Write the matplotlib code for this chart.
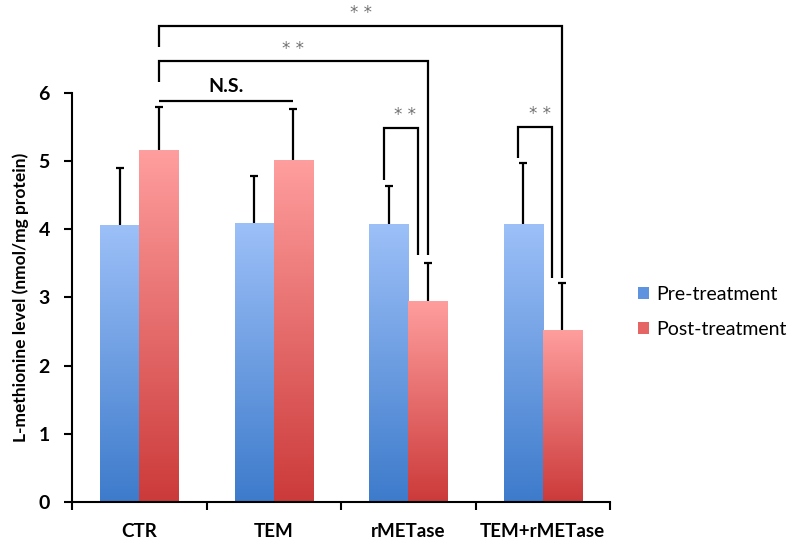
import numpy as np
import matplotlib
matplotlib.use("Agg")
import matplotlib.pyplot as plt
from matplotlib.patches import Patch
from matplotlib.colors import LinearSegmentedColormap

categories = ['CTR', 'TEM', 'rMETase', 'TEM+rMETase']
pre = [4.07, 4.10, 4.08, 4.08]
pre_err = [0.83, 0.68, 0.56, 0.89]
post = [5.16, 5.02, 2.95, 2.53]
post_err = [0.63, 0.75, 0.55, 0.68]
series_labels = ['Pre-treatment', 'Post-treatment']
yticks = [0, 1, 2, 3, 4, 5, 6]

plt.rcParams['font.family'] = ['Lato', 'DejaVu Sans']

fig = plt.figure(figsize=(8, 5.5), dpi=100)
ax = fig.add_axes([0.09, 0.0873, 0.6725, 0.7436])

x = np.arange(len(categories))
w = 0.29
pre_cmap = LinearSegmentedColormap.from_list('pre', ['#3D7BCB', '#9DC0F8'])
post_cmap = LinearSegmentedColormap.from_list('post', ['#CC3A3A', '#FF9E9E'])

bars_pre = ax.bar(x - w / 2, pre, w, facecolor='none', edgecolor='none')
bars_post = ax.bar(x + w / 2, post, w, facecolor='none', edgecolor='none')

grad = np.linspace(0, 1, 256).reshape(-1, 1)
for bars, cmap in ((bars_pre, pre_cmap), (bars_post, post_cmap)):
    for b in bars:
        x0, y0 = b.get_x(), b.get_y()
        im = ax.imshow(grad, cmap=cmap, origin='lower', aspect='auto',
                       extent=(x0, x0 + b.get_width(), y0, y0 + b.get_height()),
                       zorder=1)
        im.set_clip_path(b)

for xs, vals, errs in ((x - w / 2, pre, pre_err), (x + w / 2, post, post_err)):
    eb = ax.errorbar(xs, vals, yerr=[np.zeros(len(vals)), errs], fmt='none',
                     ecolor='black', elinewidth=1.6, capsize=3, capthick=1.6,
                     zorder=3)
    eb[1][0].set_visible(False)

ax.set_xlim(-0.5, 3.5)
ax.set_ylim(0, 6)
ax.set_yticks(yticks)
ax.set_yticklabels([str(t) for t in yticks], fontsize=14, fontweight='bold')
ax.set_xticks(x)
ax.set_xticklabels(categories, fontsize=13.5, fontweight='bold')
ax.tick_params(axis='x', which='major', length=0, pad=15)
ax.set_xticks(np.arange(-0.5, 4.0, 1.0), minor=True)
ax.tick_params(axis='x', which='minor', length=6, width=1.5, direction='out')
ax.tick_params(axis='y', length=6, width=1.5, direction='out', pad=10)
for s in ('top', 'right'):
    ax.spines[s].set_visible(False)
for s in ('left', 'bottom'):
    ax.spines[s].set_linewidth(1.5)
ax.set_ylabel('L-methionine level (nmol/mg protein)', fontsize=12.5,
              fontweight='bold', labelpad=7)

lw = 1.6
def line(xs, ys):
    ax.plot(xs, ys, color='black', lw=lw, clip_on=False, zorder=4,
            solid_capstyle='butt', solid_joinstyle='miter')

def star(xc, yc):
    ax.text(xc, yc, '* *', ha='center', va='center', fontsize=12,
            color='#707070', clip_on=False, family='DejaVu Sans')

px = 1 / 134.5
# N.S.
line([0 + w / 2, 1 + w / 2], [5.89, 5.89])
ax.text((0 + w / 2 + 1 + w / 2) / 2, 6.1, 'N.S.', ha='center', va='center',
        fontsize=14, fontweight='bold', clip_on=False)
# CTR vs rMETase post
line([0 + w / 2, 0 + w / 2, 2 + w / 2, 2 + w / 2], [6.16, 6.47, 6.47, 3.62])
star((0 + w / 2 + 2 + w / 2) / 2, 6.64)
# CTR vs TEM+rMETase post
line([0 + w / 2, 0 + w / 2, 3 + w / 2, 3 + w / 2], [6.67, 6.99, 6.99, 3.28])
star((0 + w / 2 + 3 + w / 2) / 2, 7.18)
# rMETase pre vs post
line([2 - w / 2 - 5 * px, 2 - w / 2 - 5 * px, 2 + w / 2 - 10 * px, 2 + w / 2 - 10 * px],
     [4.72, 5.48, 5.48, 3.62])
star(2 - 3 * px, 5.67)
# TEM+rMETase pre vs post
line([3 - w / 2 - 5 * px, 3 - w / 2 - 5 * px, 3 + w / 2 - 10 * px, 3 + w / 2 - 10 * px],
     [5.04, 5.5, 5.5, 3.28])
star(3 - 3 * px, 5.69)

handles = [Patch(facecolor='#5E93E0', edgecolor='none'),
           Patch(facecolor='#E56565', edgecolor='none')]
fig.legend(handles, series_labels, loc='center left', bbox_to_anchor=(0.775, 0.433),
           frameon=False, fontsize=14, handlelength=0.6, handleheight=0.6,
           handletextpad=0.35, labelspacing=0.9)

fig.savefig('out.png', dpi=100)
